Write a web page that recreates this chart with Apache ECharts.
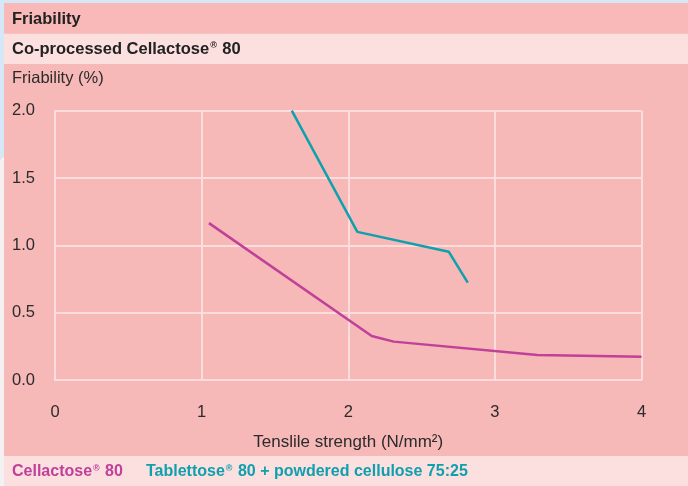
<!DOCTYPE html>
<html><head><meta charset="utf-8">
<script src="https://cdn.jsdelivr.net/npm/echarts@6/dist/echarts.min.js"></script>
<style>html,body{margin:0;padding:0;background:#fff}#c{width:688px;height:486px}</style>
</head><body><div id="c"></div>
<script>
const title = 'Friability';
const subtitle = 'Co-processed Cellactose';
const yAxisTitle = 'Friability (%)';
const xAxisTitle = 'Tenslile strength (N/mm²)';
const seriesNames = ['Cellactose® 80', 'Tablettose® 80 + powdered cellulose 75:25'];
const cellactoseX = [1.05, 2.16, 2.31, 3.29, 4.0];
const cellactoseY = [1.165, 0.327, 0.285, 0.186, 0.173];
const tablettoseX = [1.615, 2.062, 2.685, 2.815];
const tablettoseY = [2.0, 1.10, 0.953, 0.723];
const xTicks = [0, 1, 2, 3, 4];
const yTicks = [0.0, 0.5, 1.0, 1.5, 2.0];

const FONT = '"Liberation Sans", Arial, sans-serif';
const MAGENTA = '#C0409A';
const TEAL = '#0FA0AE';
const GRIDC = '#FCDCDC';

const chart = echarts.init(document.getElementById('c'), null, {renderer: 'canvas'});
const zip = (xs, ys) => xs.map((x, i) => [x, ys[i]]);

chart.setOption({
  backgroundColor: '#F7B8B8',
  animation: false,
  grid: {left: 55, right: 46.5, top: 110.7, bottom: 106},
  xAxis: {
    type: 'value', min: xTicks[0], max: xTicks[xTicks.length - 1], interval: 1,
    axisLine: {show: true, lineStyle: {color: GRIDC, width: 2}},
    axisTick: {show: false},
    splitLine: {show: true, lineStyle: {color: GRIDC, width: 2}},
    axisLabel: {color: '#2b2b2b', fontFamily: FONT, fontSize: 16.5, margin: 24},
    name: xAxisTitle, nameLocation: 'middle', nameGap: 54,
    nameTextStyle: {color: '#2b2b2b', fontFamily: FONT, fontSize: 17}
  },
  yAxis: {
    type: 'value', min: yTicks[0], max: yTicks[yTicks.length - 1], interval: 0.5,
    axisLine: {show: true, lineStyle: {color: GRIDC, width: 2}},
    axisTick: {show: false},
    splitLine: {show: true, lineStyle: {color: GRIDC, width: 2}},
    axisLabel: {color: '#2b2b2b', fontFamily: FONT, fontSize: 16.5, margin: 43, align: 'left',
      formatter: v => v.toFixed(1)}
  },
  series: [
    {name: seriesNames[0], type: 'line', data: zip(cellactoseX, cellactoseY), showSymbol: false,
     lineStyle: {color: MAGENTA, width: 2.5}, itemStyle: {color: MAGENTA}},
    {name: seriesNames[1], type: 'line', data: zip(tablettoseX, tablettoseY), showSymbol: false,
     lineStyle: {color: TEAL, width: 2.5}, itemStyle: {color: TEAL}}
  ],
  graphic: [
    {type: 'rect', shape: {x: 0, y: 0, width: 688, height: 3}, style: {fill: '#D6E8F8'}, z: 1},
    {type: 'polygon', shape: {points: [[0, 0], [4, 0], [4, 156], [0, 160]]}, style: {fill: '#D6E8F8'}, z: 1},
    {type: 'polygon', shape: {points: [[0, 160], [4, 156], [4, 486], [0, 486]]}, style: {fill: '#F5F0F2'}, z: 1},
    {type: 'rect', shape: {x: 4, y: 3, width: 684, height: 30}, style: {fill: '#F9B9B9'}, z: 1},
    {type: 'rect', shape: {x: 4, y: 33, width: 684, height: 1}, style: {fill: '#F6C2C2'}, z: 1},
    {type: 'rect', shape: {x: 4, y: 34, width: 684, height: 30}, style: {fill: '#FCDFDF'}, z: 1},
    {type: 'rect', shape: {x: 4, y: 456, width: 684, height: 30}, style: {fill: '#FCDFDF'}, z: 1},
    {type: 'text', left: 12, top: 11, z: 2,
     style: {text: title, fill: '#222', font: 'bold 16.5px ' + FONT}},
    {type: 'text', left: 12, top: 41, z: 2,
     style: {text: '{a|' + subtitle + '}{s|®}{a| 80}', fill: '#222',
       rich: {a: {font: 'bold 16.5px ' + FONT, fill: '#222'},
              s: {font: 'bold 9px ' + FONT, fill: '#222', verticalAlign: 'top', padding: [0, 1, 7, 1]}}}},
    {type: 'text', left: 12, top: 70, z: 2,
     style: {text: yAxisTitle, fill: '#2b2b2b', font: '16.5px ' + FONT}},
    {type: 'text', left: 12, top: 464, z: 2,
     style: {text: '{a|Cellactose}{s|®}{a| 80}',
       rich: {a: {font: 'bold 16px ' + FONT, fill: MAGENTA},
              s: {font: 'bold 9px ' + FONT, fill: MAGENTA, verticalAlign: 'top', padding: [0, 1, 7, 1]}}}},
    {type: 'text', left: 146, top: 464, z: 2,
     style: {text: '{a|Tablettose}{s|®}{a| 80 + powdered cellulose 75:25}',
       rich: {a: {font: 'bold 16px ' + FONT, fill: TEAL},
              s: {font: 'bold 9px ' + FONT, fill: TEAL, verticalAlign: 'top', padding: [0, 1, 7, 1]}}}}
  ]
});
</script>
</body></html>
